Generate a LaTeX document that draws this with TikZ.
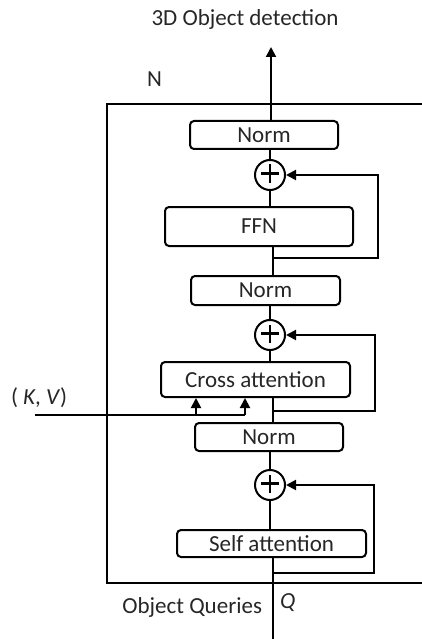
\documentclass[tikz,border=0pt]{standalone}
\usepackage{fontspec}
\setmainfont{Carlito}
\usetikzlibrary{arrows.meta}
\begin{document}
\begin{tikzpicture}[x=1pt,y=-1pt, line width=2pt,
  >={Triangle[length=10pt,width=10pt]},
  blk/.style={draw, rounded corners=4pt, inner sep=0pt, text=black!85, font=\fontsize{23}{26}\selectfont},
  addc/.style={draw, circle, minimum size=30pt, inner sep=0pt},
  lbl/.style={font=\fontsize{23}{26}\selectfont, text=black!85, inner sep=0pt}]
\useasboundingbox (0,0) rectangle (422,639);
% frame
\draw (422,104) -- (107,104) -- (107,583) -- (422,583);
% blocks
\node[blk, minimum width=148pt, minimum height=28pt] (n1) at (264,135) {Norm};
\node[blk, minimum width=188pt, minimum height=39pt] (ffn) at (259,226.5) {FFN};
\node[blk, minimum width=149pt, minimum height=29pt] (n2) at (265.5,290.5) {Norm};
\node[blk, minimum width=189pt, minimum height=35pt] (cross) at (255.5,379.5) {Cross attention};
\node[blk, minimum width=148pt, minimum height=28pt] (n3) at (269,437) {Norm};
\node[blk, minimum width=189pt, minimum height=27pt] (self) at (271.5,543.5) {Self attention};
% adders
\foreach \n/\y in {p1/175,p2/335,p3/485}{
  \node[addc] (\n) at (270,\y) {};
  \draw[line width=2.4pt] ([xshift=-9pt,yshift=1.5pt]\n.center) -- ([xshift=9pt,yshift=1.5pt]\n.center);
  \draw[line width=2.4pt] ([yshift=-7.5pt]\n.center) -- ([yshift=10.5pt]\n.center);
}
% coordinates
\coordinate (out) at (271,47);
\coordinate (b1) at (273,258);
\coordinate (b2) at (273,411);
\coordinate (b3) at (273,573);
\coordinate (in) at (273,639);
\coordinate (kv) at (35,415);
\coordinate (kv1) at (196,415);
\coordinate (kv2) at (245,415);
% main flow
\draw[->] (n1.north -| out) -- (out);
\draw (p1.north) -- (p1.north |- n1.south);
\draw (p1.south) -- (p1.south |- ffn.north);
\draw (ffn.south -| b1) -- (n2.north -| b1);
\draw[->] (b1) -- ++(105,0) |- (p1.east);
\draw (p2.north) -- (p2.north |- n2.south);
\draw (p2.south) -- (p2.south |- cross.north);
\draw (cross.south -| b2) -- (n3.north -| b2);
\draw[->] (b2) -- ++(102,0) |- (p2.east);
\draw (p3.north) -- (p3.north |- n3.south);
\draw (p3.south) -- (p3.south |- self.north);
\draw (in) -- (self.south -| in);
\draw[->] (b3) -- ++(101,0) |- (p3.east);
% K,V
\draw (kv) -- (kv2);
\draw[->] (kv1) -- (cross.south -| kv1);
\draw[->] (kv2) -- (cross.south -| kv2);
% labels
\node[lbl, anchor=base] (t1) at (245,26) {3D Object detection};
\node[lbl, anchor=base west] (t2) at (146,87) {N};
\node[lbl, anchor=base west] (t3) at (10,404) {( \textit{K}, \textit{V})};
\node[lbl, anchor=base east] (t4) at (263,613) {Object Queries};
\node[lbl, anchor=base west] (t5) at (279,608) {\textit{Q}};
\end{tikzpicture}
\end{document}
